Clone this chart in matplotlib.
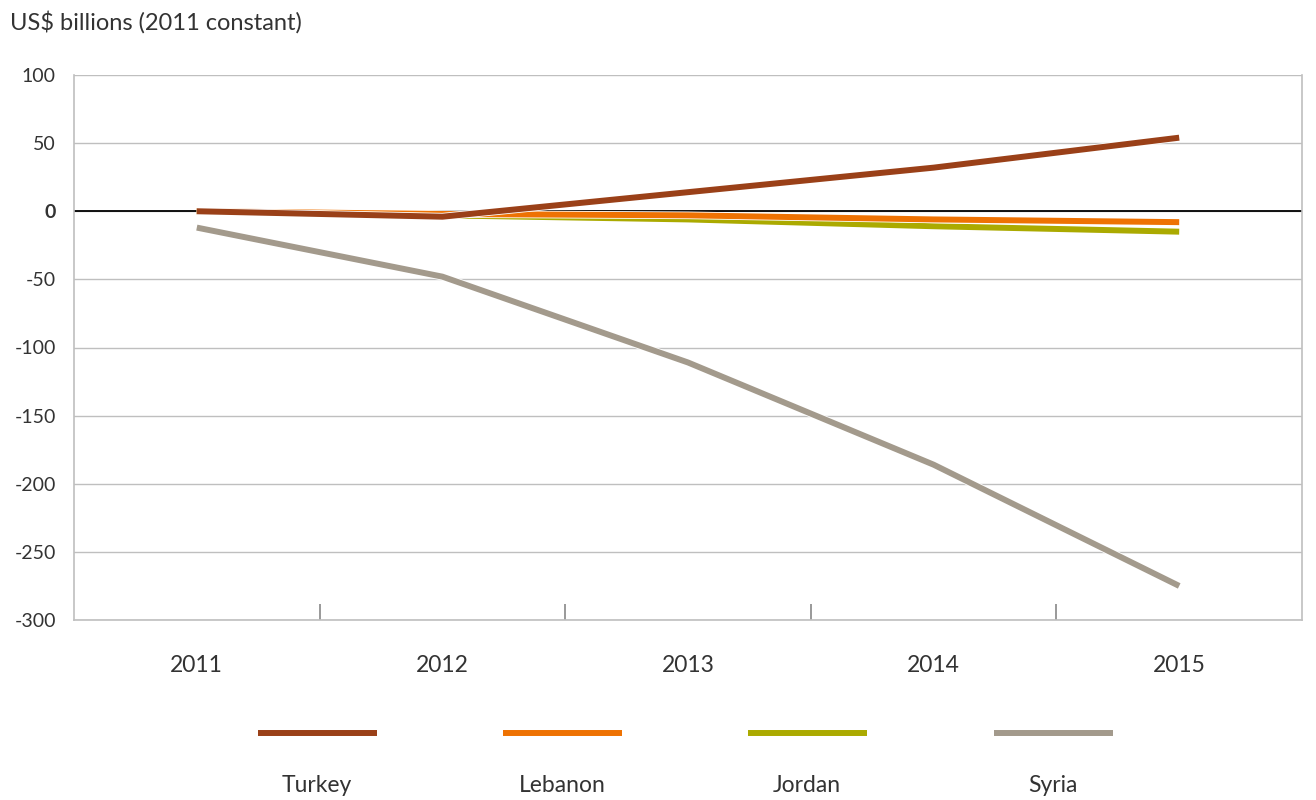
import matplotlib
matplotlib.use("Agg")
import matplotlib.pyplot as plt
import matplotlib.patheffects as pe
from matplotlib.lines import Line2D

years = ["2011", "2012", "2013", "2014", "2015"]
turkey = [0, -4, 14, 32, 54]
lebanon = [0, -2, -3, -6, -8]
jordan = [0, -3, -6, -11, -15]
syria = [-12, -48, -111, -186, -275]

series = [
    ("Turkey", turkey, "#9A4018"),
    ("Lebanon", lebanon, "#EE7203"),
    ("Jordan", jordan, "#ABAA00"),
    ("Syria", syria, "#A39A8C"),
]
yticks = [100, 50, 0, -50, -100, -150, -200, -250, -300]

plt.rcParams['font.family'] = ['Lato', 'DejaVu Sans']
W, H = 1316, 800
fig = plt.figure(figsize=(W / 100, H / 100), dpi=100)
ax = fig.add_axes([74 / W, 180 / H, 1228 / W, 545 / H])

x = list(range(len(years)))
zorders = {"Turkey": 6, "Lebanon": 5, "Jordan": 4, "Syria": 3}
for name, vals, col in series:
    ax.plot(x, vals, color=col, lw=4.3, solid_capstyle='butt', zorder=zorders[name],
            path_effects=[pe.Stroke(linewidth=5.5, foreground='white'), pe.Normal()])

ax.set_xlim(-0.5, len(years) - 0.5)
ax.set_ylim(-300, 100)
ax.set_yticks(yticks)
ax.set_yticklabels([str(v) for v in yticks])
for lab in ax.get_yticklabels():
    if lab.get_text() == "0":
        lab.set_fontweight('bold')
ax.yaxis.grid(True, color='#BFBFBF', lw=1)
ax.set_axisbelow(True)
ax.axhline(0, color='black', lw=1.3, zorder=2)

ax.set_xticks(x)
ax.set_xticklabels(years)
ax.set_xticks([i + 0.5 for i in range(len(years) - 1)], minor=True)
ax.tick_params(axis='x', which='major', length=0, pad=25, labelsize=16.5, labelcolor='#333333')
ax.tick_params(axis='x', which='minor', direction='in', length=11.5, width=1.2, color='#888888')
ax.tick_params(axis='y', length=0, pad=13, labelsize=14, labelcolor='#333333')

for s in ['left', 'right', 'bottom', 'top']:
    ax.spines[s].set_color('#BFBFBF')
    ax.spines[s].set_linewidth(1.2)
ax.spines['top'].set_visible(False)

fig.text(10 / W, 1 - 22 / H, "US$ billions (2011 constant)", fontsize=17,
         color='#333333', va='center', ha='left')

# legend
centers = [317, 562, 807, 1053]
for (name, vals, col), cx in zip(series, centers):
    fig.add_artist(Line2D([(cx - 59) / W, (cx + 60) / W], [1 - 733 / H, 1 - 733 / H],
                          color=col, lw=4.3, solid_capstyle='butt'))
    fig.text(cx / W, 1 - 785 / H, name, fontsize=16.5, color='#333333', ha='center', va='center')

fig.savefig("out.png", dpi=100)
